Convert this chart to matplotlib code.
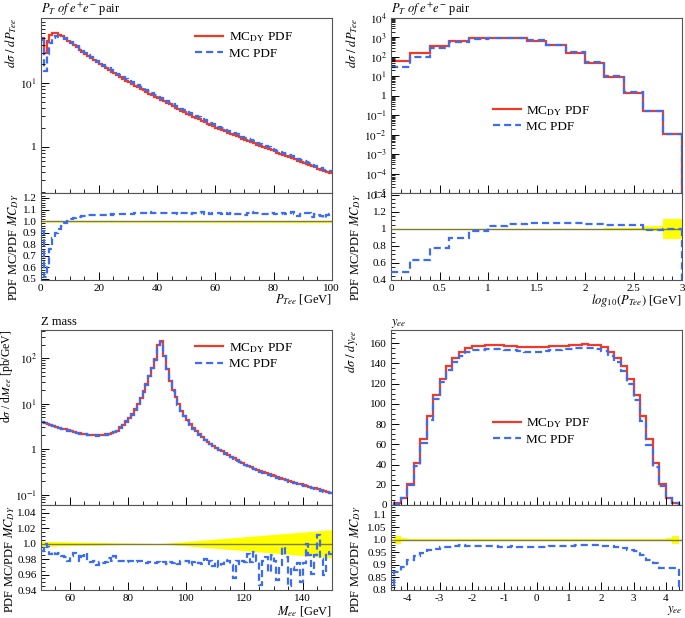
import numpy as np
import matplotlib
matplotlib.use('Agg')
import matplotlib.pyplot as plt
from matplotlib.ticker import FixedLocator, MultipleLocator, LogLocator, NullFormatter, FixedFormatter

plt.rcParams.update({'font.family': ['Liberation Serif', 'DejaVu Serif'],
                     'mathtext.fontset': 'stix', 'axes.unicode_minus': False,
                     'font.size': 8})

RED, BLUE, BAND, ONE = '#f03a26', '#3a6cf4', '#ffff00', '#7d7d2a'
DASH = (0, (3.2, 1.8))

# ---- P_T of the e+e- pair (1 GeV bins, 0-100) ----
pt_edges = np.arange(0, 101, 1)
pt_red = [51, 30, 46, 56, 60, 60, 57, 54, 50, 46,
          42.7, 39.3, 36.1, 33.3, 30.6, 28.2, 26.2, 24.3, 22.6, 21.0,
          19.5, 18.3, 17.1, 16.1, 15.1, 14.1, 13.2, 12.4, 11.6, 10.9,
          10.2, 9.66, 9.12, 8.61, 8.13, 7.67, 7.24, 6.84, 6.46, 6.10,
          5.75, 5.45, 5.15, 4.88, 4.61, 4.37, 4.13, 3.91, 3.70, 3.50,
          3.31, 3.15, 2.99, 2.84, 2.70, 2.57, 2.44, 2.32, 2.21, 2.10,
          2.00, 1.91, 1.83, 1.75, 1.67, 1.60, 1.53, 1.47, 1.41, 1.35,
          1.29, 1.24, 1.19, 1.14, 1.09, 1.05, 1.00, 0.964, 0.925, 0.887,
          0.851, 0.817, 0.783, 0.752, 0.721, 0.692, 0.664, 0.637, 0.611, 0.586,
          0.562, 0.540, 0.518, 0.498, 0.478, 0.458, 0.440, 0.423, 0.406, 0.389]
pt_ratio = [0.91, 0.52, 0.62, 0.76, 0.85, 0.90, 0.93, 0.96, 0.98, 1.00,
            1.015, 1.025, 1.032, 1.038, 1.042, 1.046, 1.050, 1.052, 1.054, 1.055,
            1.055, 1.056, 1.055, 1.057, 1.056, 1.058, 1.057, 1.058, 1.060, 1.059,
            1.061, 1.063, 1.066, 1.068, 1.066, 1.070, 1.068, 1.078, 1.070, 1.072,
            1.068, 1.072, 1.066, 1.070, 1.074, 1.067, 1.069, 1.065, 1.068, 1.066,
            1.070, 1.064, 1.068, 1.066, 1.070, 1.079, 1.065, 1.072, 1.060, 1.068,
            1.066, 1.070, 1.064, 1.066, 1.062, 1.066, 1.063, 1.065, 1.058, 1.064,
            1.056, 1.074, 1.080, 1.068, 1.066, 1.062, 1.064, 1.058, 1.062, 1.066,
            1.060, 1.058, 1.064, 1.066, 1.060, 1.068, 1.077, 1.062, 1.044, 1.062,
            1.070, 1.074, 1.066, 1.035, 1.060, 1.055, 1.048, 1.027, 1.050, 1.065]
pt_band_x = [0, 100]
pt_band_lo = [0.992, 0.987]
pt_band_hi = [1.002, 1.003]

# ---- log10(P_T) (0.2 bins, 0-3) ----
lpt_edges = np.arange(0, 3.01, 0.2)
lpt_red = [60, 165, 370, 670, 890, 960, 890, 670, 400, 160, 51, 9.6, 1.43, 0.166, 0.0108]
lpt_ratio = [0.49, 0.63, 0.77, 0.89, 0.98, 1.03, 1.055, 1.065, 1.07, 1.065,
             1.06, 1.05, 1.045, 0.99, 1.0]
lpt_err = [0.002, 0.002, 0.002, 0.002, 0.002, 0.002, 0.002, 0.002, 0.002, 0.002,
           0.003, 0.005, 0.012, 0.03, 0.12]

# ---- Z mass (1 GeV bins, 50-150) ----
m_edges = np.arange(50, 151, 1)
m_red = [4.0, 3.8, 3.6, 3.42, 3.26, 3.1, 2.96, 2.83, 2.71, 2.6,
         2.5, 2.4, 2.32, 2.25, 2.19, 2.14, 2.1, 2.07, 2.05, 2.05,
         2.06, 2.09, 2.13, 2.19, 2.27, 2.38, 2.55, 3.0, 3.4, 4.1,
         4.8, 5.9, 7.6, 9.8, 13.7, 19, 27, 41, 62, 95,
         200, 240, 115, 59, 32, 20, 14, 9.8, 7.0, 5.4,
         4.3, 3.5, 2.9, 2.45, 2.12, 1.85, 1.63, 1.46, 1.32, 1.19,
         1.08, 0.98, 0.89, 0.81, 0.74, 0.68, 0.625, 0.575, 0.53, 0.49,
         0.455, 0.425, 0.397, 0.372, 0.35, 0.33, 0.312, 0.295, 0.279, 0.265,
         0.252, 0.240, 0.229, 0.218, 0.208, 0.199, 0.190, 0.182, 0.175, 0.168,
         0.161, 0.155, 0.149, 0.143, 0.137, 0.131, 0.125, 0.119, 0.114, 0.109]
m_ratio = [0.990, 1.000, 0.996, 0.986, 0.989, 0.987, 0.988, 0.984, 0.983, 0.977,
           0.984, 0.988, 0.987, 0.978, 0.984, 0.988, 0.978, 0.976, 0.978, 0.972,
           0.976, 0.975, 0.976, 0.981, 0.978, 0.984, 0.978, 0.978, 0.977, 0.976,
           0.977, 0.978, 0.976, 0.977, 0.978, 0.976, 0.975, 0.976, 0.976, 0.975,
           0.976, 0.975, 0.976, 0.974, 0.976, 0.975, 0.976, 0.973, 0.977, 0.978,
           0.977, 0.972, 0.976, 0.978, 0.975, 0.974, 0.980, 0.973, 0.977, 0.971,
           0.978, 0.970, 0.973, 0.979, 0.977, 0.972, 0.955, 0.978, 0.973, 0.978,
           0.976, 0.987, 0.976, 0.989, 0.978, 0.946, 0.977, 0.983, 0.963, 0.985,
           0.978, 0.953, 0.972, 0.996, 0.983, 0.945, 0.970, 0.966, 0.975, 0.950,
           0.975, 1.000, 0.985, 0.961, 0.985, 1.011, 0.980, 0.960, 0.989, 0.987]
m_band_x = [50, 91, 150]
m_band_lo = [0.9965, 1.0, 0.9815]
m_band_hi = [1.003, 1.0, 1.018]

# ---- rapidity y_ee (0.2 bins, -4.4..4.4) ----
y_edges = np.arange(-4.4, 4.41, 0.2)
y_red = [1.7, 7.4, 21, 41.5, 65, 88, 109, 125, 137, 145,
         151, 155, 157, 157.5, 158, 158.5, 158, 157.5, 157, 156.5,
         156, 156, 156, 156.5, 157, 157, 157.5, 158, 158.5, 159,
         158.5, 158, 156, 151, 145, 137, 125, 109, 88, 65,
         41.5, 21, 7.4, 1.7]
y_ratio = [0.872, 0.89, 0.92, 0.935, 0.946, 0.957, 0.964, 0.97, 0.973, 0.977,
           0.978, 0.977, 0.976, 0.975, 0.975, 0.974, 0.973, 0.973, 0.974, 0.973,
           0.972, 0.971, 0.971, 0.972, 0.974, 0.976, 0.977, 0.977, 0.978, 0.978,
           0.978, 0.978, 0.976, 0.974, 0.972, 0.966, 0.960, 0.953, 0.940, 0.920,
           0.906, 0.886, 0.886, 0.886]
y_err = [0.016, 0.006, 0.004, 0.003, 0.003, 0.003, 0.003, 0.003, 0.003, 0.003,
         0.003, 0.003, 0.003, 0.003, 0.003, 0.003, 0.003, 0.003, 0.003, 0.003,
         0.003, 0.003, 0.003, 0.003, 0.003, 0.003, 0.003, 0.003, 0.003, 0.003,
         0.003, 0.003, 0.003, 0.003, 0.003, 0.003, 0.003, 0.003, 0.003, 0.003,
         0.003, 0.004, 0.006, 0.016]

fig = plt.figure(figsize=(6.85, 6.18), dpi=100)
W, H = 685.0, 618.0


def box(x0, y0, x1, y1):
    return fig.add_axes([x0 / W, 1 - y1 / H, (x1 - x0) / W, (y1 - y0) / H])


def style(ax):
    ax.tick_params(which='both', direction='in', top=False, right=False, labelsize=8)
    ax.tick_params(which='major', length=6, width=0.7, pad=3)
    ax.tick_params(which='minor', length=3, width=0.6)
    for s in ax.spines.values():
        s.set_linewidth(0.8)
        s.set_color('#555555')


def logfmt(vals):
    return ['1' if v == 1 else r'$10^{%d}$' % int(round(np.log10(v))) for v in vals]


def panel(left, top, edges, red, ratio, title, ylab, xlab, ylx, leg_xy, drop=None):
    x1 = left + 291
    am = box(left, top, x1, top + 175)
    ar = box(left, top + 175, x1, top + 262 if top < 100 else top + 260)
    for ax in (am, ar):
        style(ax)
        ax.set_xlim(edges[0], edges[-1])
    red = np.asarray(red)
    blue = red * np.asarray(ratio)
    am.stairs(red, edges, color=RED, lw=1.6, baseline=drop)
    am.stairs(blue, edges, color=BLUE, lw=1.6, ls=DASH, baseline=drop)
    am.plot([], [], color=RED, lw=1.6, label=r'MC$_{\rm DY}$ PDF')
    am.plot([], [], color=BLUE, lw=1.6, ls=DASH, label='MC PDF')
    am.legend(loc='upper left', bbox_to_anchor=leg_xy, frameon=False, fontsize=9.5,
              handlelength=2.1, handletextpad=0.45, borderpad=0, borderaxespad=0,
              labelspacing=0.25)
    am.tick_params(labelbottom=False)
    am.text(0, 1.03, title, transform=am.transAxes, ha='left', va='baseline', fontsize=9)
    am.set_ylabel(ylab, loc='top', fontsize=9)
    am.yaxis.set_label_coords(ylx, 1.0)
    ar.set_ylabel(r'PDF MC/PDF $MC_{DY}$', loc='top', fontsize=9)
    ar.yaxis.set_label_coords(ylx + 0.008, 1.0)
    ar.set_xlabel(xlab, loc='right', fontsize=9)
    ar.axhline(1.0, color=ONE, lw=1.0, zorder=2)
    ar.stairs(ratio, edges, color=BLUE, lw=1.6, ls=DASH, baseline=drop if drop is None else 0,
              zorder=3)
    return am, ar


# top-left
am, ar = panel(40.7, 18, pt_edges, pt_red, pt_ratio, r'$P_T\ of\ e^{+}e^{-}$ pair',
               r'$d\sigma\ /\ dP_{Tee}$', r'$P_{Tee}$ [GeV]', -0.075, (0.53, 0.93))
am.set_yscale('log')
am.set_ylim(0.19, 104)
am.yaxis.set_major_locator(FixedLocator([1, 10]))
am.yaxis.set_major_formatter(FixedFormatter(logfmt([1, 10])))
am.yaxis.set_minor_locator(LogLocator(base=10, subs=np.arange(2, 10), numticks=50))
am.yaxis.set_minor_formatter(NullFormatter())
ar.fill_between(pt_band_x, pt_band_lo, pt_band_hi, color=BAND, lw=0, zorder=1)
ar.set_ylim(0.49, 1.243)
ar.set_yticks([0.5, 0.6, 0.7, 0.8, 0.9, 1.0, 1.1, 1.2])
ar.set_yticklabels(['0.5', '0.6', '0.7', '0.8', '0.9', '1.0', '1.1', '1.2'])
ar.yaxis.set_minor_locator(MultipleLocator(0.02))
for a in (am, ar):
    a.xaxis.set_major_locator(MultipleLocator(20))
    a.xaxis.set_minor_locator(MultipleLocator(5))
ar.xaxis.set_label_coords(1.0, -0.14)

# top-right
am, ar = panel(391, 18, lpt_edges, lpt_red, lpt_ratio, r'$P_T\ of\ e^{+}e^{-}$ pair',
               r'$d\sigma\ /\ dP_{Tee}$', r'$log_{10}(P_{Tee})$ [GeV]', -0.105, (0.35, 0.51))
am.set_yscale('log')
am.set_ylim(1e-5, 1e4)
dec = [10.0 ** k for k in range(-5, 5)]
am.yaxis.set_major_locator(FixedLocator(dec))
am.yaxis.set_major_formatter(FixedFormatter(logfmt(dec)))
am.yaxis.set_minor_locator(LogLocator(base=10, subs=np.arange(2, 10), numticks=50))
am.yaxis.set_minor_formatter(NullFormatter())
am.plot([lpt_edges[-1]] * 2, [lpt_red[-1], 1e-6], color=RED, lw=1.6)
am.plot([lpt_edges[-1]] * 2, [lpt_red[-1] * lpt_ratio[-1], 1e-6], color=BLUE, lw=1.6, ls=DASH)
lo = 1 - np.asarray(lpt_err)
hi = 1 + np.asarray(lpt_err)
ar.stairs(hi, lpt_edges, baseline=lo, fill=True, color=BAND, lw=0, zorder=1)
ar.plot([lpt_edges[-1]] * 2, [lpt_ratio[-1], 0.3], color=BLUE, lw=1.6, ls=DASH, zorder=3)
ar.set_ylim(0.4, 1.42)
ar.set_yticks([0.4, 0.6, 0.8, 1.0, 1.2, 1.4])
ar.set_yticklabels(['0.4', '0.6', '0.8', '1', '1.2', '1.4'])
ar.yaxis.set_minor_locator(MultipleLocator(0.05))
for a in (am, ar):
    a.xaxis.set_major_locator(MultipleLocator(0.5))
    a.xaxis.set_minor_locator(MultipleLocator(0.1))
ar.set_xticks([0, 0.5, 1, 1.5, 2, 2.5, 3])
ar.set_xticklabels(['0', '0.5', '1', '1.5', '2', '2.5', '3'])
ar.xaxis.set_label_coords(1.0, -0.14)

# bottom-left
am, ar = panel(40.7, 330, m_edges, m_red, m_ratio, 'Z mass',
               r'd$\sigma$ / d$M_{ee}$ [pb/GeV]', r'$M_{ee}$ [GeV]', -0.09, (0.53, 0.937))
am.yaxis.label.set_fontsize(8.5)
am.set_yscale('log')
am.set_ylim(0.059, 420)
dec = [0.1, 1, 10, 100]
am.yaxis.set_major_locator(FixedLocator(dec))
am.yaxis.set_major_formatter(FixedFormatter(logfmt(dec)))
am.yaxis.set_minor_locator(LogLocator(base=10, subs=np.arange(2, 10), numticks=50))
am.yaxis.set_minor_formatter(NullFormatter())
ar.fill_between(m_band_x, m_band_lo, m_band_hi, color=BAND, lw=0, zorder=1)
ar.set_ylim(0.94, 1.05)
ar.set_yticks([0.94, 0.96, 0.98, 1.0, 1.02, 1.04])
ar.set_yticklabels(['0.94', '0.96', '0.98', '1.0', '1.02', '1.04'])
ar.yaxis.set_minor_locator(MultipleLocator(0.005))
for a in (am, ar):
    a.xaxis.set_major_locator(MultipleLocator(20))
    a.xaxis.set_minor_locator(MultipleLocator(5))
ar.xaxis.set_label_coords(1.0, -0.17)

# bottom-right
am, ar = panel(391, 330, y_edges, y_red, y_ratio, r'$y_{ee}$',
               r'$d\sigma\ /\ dy_{ee}$', r'$y_{ee}$', -0.105, (0.35, 0.505), drop=0)
for a in (am, ar):
    a.set_xlim(-4.5, 4.5)
    a.xaxis.set_major_locator(MultipleLocator(1))
    a.xaxis.set_minor_locator(MultipleLocator(0.2))
am.set_ylim(0, 173)
am.yaxis.set_major_locator(MultipleLocator(20))
am.yaxis.set_minor_locator(MultipleLocator(5))
lo = 1 - np.asarray(y_err)
hi = 1 + np.asarray(y_err)
ar.stairs(hi, y_edges, baseline=lo, fill=True, color=BAND, lw=0, zorder=1)
ar.set_ylim(0.798, 1.14)
ar.set_yticks([0.8, 0.85, 0.9, 0.95, 1.0, 1.05, 1.1])
ar.set_yticklabels(['0.8', '0.85', '0.9', '0.95', '1.0', '1.05', '1.1'])
ar.yaxis.set_minor_locator(MultipleLocator(0.01))
ar.xaxis.set_label_coords(1.0, -0.17)

fig.savefig('out.png', dpi=100)
